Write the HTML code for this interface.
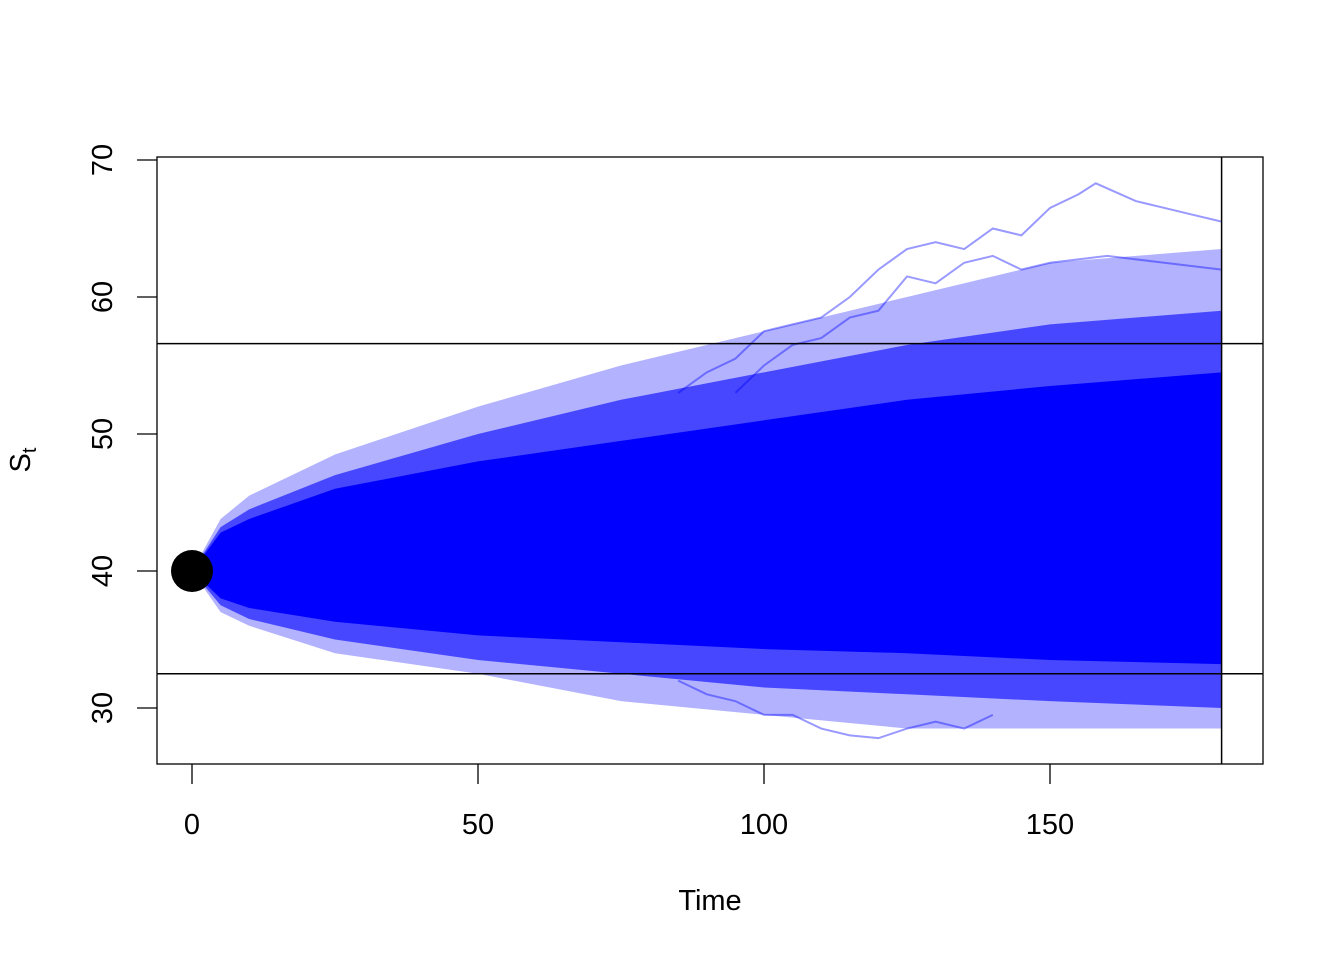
<!DOCTYPE html>
<html><head><meta charset="utf-8"><style>
body{margin:0;background:#fff}
svg{display:block;font-family:"Liberation Sans",Arial,sans-serif}
</style></head><body>
<svg id="chart" width="1344" height="960">
<rect x="157" y="157" width="1106" height="607" fill="none" stroke="#000" stroke-width="1.3"/>
<g id="bands"></g>
<g id="outliers"></g>
<g id="axes"></g>
<text x="710" y="910" font-size="29" text-anchor="middle">Time</text>
<text transform="translate(30,460) rotate(-90)" font-size="29" text-anchor="middle">S<tspan font-size="20" dy="6">t</tspan></text>
</svg>
<script>
const times=[0,5,10,25,50,75,100,125,150,180];
const outerMax=[40,43.8,45.5,48.5,52,55,57.5,60,62.5,63.5];
const outerMin=[40,37,36,34,32.5,30.5,29.5,28.5,28.5,28.5];
const midMax=[40,43.2,44.5,47,50,52.5,54.5,56.5,58,59];
const midMin=[40,37.5,36.5,35,33.5,32.5,31.5,31,30.5,30];
const coreMax=[40,42.8,43.8,46,48,49.5,51,52.5,53.5,54.5];
const coreMin=[40,38,37.3,36.3,35.3,34.8,34.3,34,33.5,33.2];
const outlierA_t=[85,90,95,100,105,110,115,120,125,130,135,140,145,150,155,158,165,170,175,180];
const outlierA_v=[53,54.5,55.5,57.5,58,58.5,60,62,63.5,64,63.5,65,64.5,66.5,67.5,68.3,67,66.5,66,65.5];
const outlierC_t=[95,100,105,110,115,120,125,130,135,140,145,150,160,170,180];
const outlierC_v=[53,55,56.5,57,58.5,59,61.5,61,62.5,63,62,62.5,63,62.5,62];
const outlierB_t=[85,90,95,100,105,110,115,120,125,130,135,140];
const outlierB_v=[32,31,30.5,29.5,29.5,28.5,28,27.8,28.5,29,28.5,29.5];
const xTicks=[0,50,100,150];
const yTicks=[30,40,50,60,70];
const hLines=[56.6,32.5];
const vLineT=180;
const startVal=40;

const X=t=>192+t*5.72;
const Y=v=>571-(v-40)*13.7;
const NS="http://www.w3.org/2000/svg";
function mk(tag,parent){const e=document.createElementNS(NS,tag);parent.appendChild(e);return e;}
const bands=document.getElementById('bands');
function band(hi,lo,op,name){
  let d='M'+times.map((t,i)=>X(t)+','+Y(hi[i])).join('L');
  d+='L'+times.slice().reverse().map((t,j)=>X(t)+','+Y(lo[times.length-1-j])).join('L')+'Z';
  const p=mk('path',bands);p.setAttribute('d',d);p.setAttribute('fill','#0000ff');p.setAttribute('fill-opacity',op);
  
  
}
band(outerMax,outerMin,0.3,'outer-band');
band(midMax,midMin,0.6,'mid-band');
band(coreMax,coreMin,1,'core-band');
const outl=document.getElementById('outliers');
function line(ts,vs,name){
  const p=mk('polyline',outl);p.setAttribute('points',ts.map((t,i)=>X(t)+','+Y(vs[i])).join(' '));
  p.setAttribute('fill','none');p.setAttribute('stroke','#0000ff');p.setAttribute('stroke-opacity','0.4');p.setAttribute('stroke-width','2');
  
  
}
line(outlierA_t,outlierA_v,'outlier-path-high');
line(outlierC_t,outlierC_v,'outlier-path-high-2');
line(outlierB_t,outlierB_v,'outlier-path-low');
const ax=document.getElementById('axes');
hLines.forEach(v=>{const l=mk('line',ax);l.setAttribute('x1',157);l.setAttribute('x2',1263);l.setAttribute('y1',Y(v));l.setAttribute('y2',Y(v));l.setAttribute('stroke','#000');l.setAttribute('stroke-width','1.5');
  
  });
const vl=mk('line',ax);vl.setAttribute('x1',X(vLineT));vl.setAttribute('x2',X(vLineT));vl.setAttribute('y1',157);vl.setAttribute('y2',764);vl.setAttribute('stroke','#000');vl.setAttribute('stroke-width','1.5');


const c=mk('circle',ax);c.setAttribute('cx',X(0));c.setAttribute('cy',Y(startVal));c.setAttribute('r',21);c.setAttribute('fill','#000');


xTicks.forEach(t=>{const l=mk('line',ax);l.setAttribute('x1',X(t));l.setAttribute('x2',X(t));l.setAttribute('y1',764);l.setAttribute('y2',784);l.setAttribute('stroke','#000');l.setAttribute('stroke-width','1.3');
  
  
  const tx=mk('text',ax);tx.setAttribute('x',X(t));tx.setAttribute('y',834);tx.setAttribute('font-size','29');tx.setAttribute('text-anchor','middle');tx.textContent=t;
  
  });
yTicks.forEach(v=>{const l=mk('line',ax);l.setAttribute('x1',137);l.setAttribute('x2',157);l.setAttribute('y1',Y(v));l.setAttribute('y2',Y(v));l.setAttribute('stroke','#000');l.setAttribute('stroke-width','1.3');
  
  
  const tx=mk('text',ax);tx.setAttribute('transform','translate(112,'+Y(v)+') rotate(-90)');tx.setAttribute('font-size','29');tx.setAttribute('text-anchor','middle');tx.textContent=v;
  
  });
</script>
</body></html>
